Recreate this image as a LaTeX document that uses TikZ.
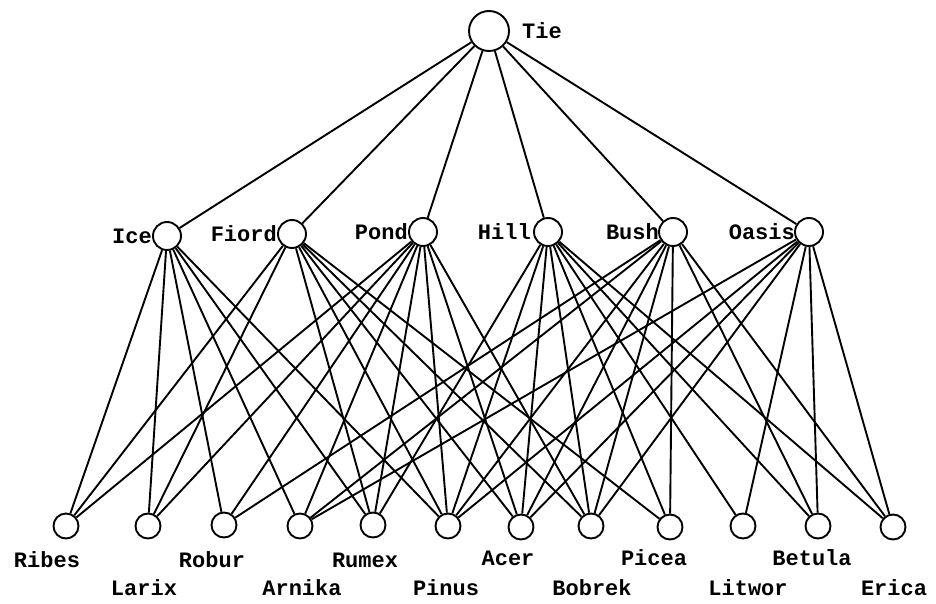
\documentclass[tikz,border=0pt]{standalone}
\usepackage{fontspec}
\setmonofont{Liberation Mono}
\begin{document}
\begin{tikzpicture}[x=1pt,y=-1pt,
  vtx/.style={circle,draw,line width=1.9pt,fill=white,inner sep=0pt},
  topv/.style={vtx,minimum size=40pt},
  midv/.style={vtx,minimum size=28pt},
  botv/.style={vtx,minimum size=25pt},
  lbl/.style={font=\ttfamily\bfseries\fontsize{22}{22}\selectfont,inner sep=0pt},
  edge/.style={line width=1.9pt}]
\useasboundingbox (0,0) rectangle (936,604);
% nodes
\node[topv] (tie) at (489,31) {};
\node[midv] (ice) at (167,236) {};
\node[midv] (fiord) at (292,234) {};
\node[midv] (pond) at (423,232) {};
\node[midv] (hill) at (548,232) {};
\node[midv] (bush) at (673,232) {};
\node[midv] (oasis) at (809,232) {};
\node[botv] (ribes) at (66,526) {};
\node[botv] (larix) at (148,526) {};
\node[botv] (robur) at (224,525) {};
\node[botv] (arnika) at (300,526) {};
\node[botv] (rumex) at (373,525) {};
\node[botv] (pinus) at (448,526) {};
\node[botv] (acer) at (521,527) {};
\node[botv] (bobrek) at (591,526) {};
\node[botv] (picea) at (670,527) {};
\node[botv] (litwor) at (743,526) {};
\node[botv] (betula) at (818,526) {};
\node[botv] (erica) at (893,527) {};
% labels
\node[lbl,anchor=west] (ltie) at (522,31) {Tie};
\node[lbl,anchor=east] (lice) at (152,236) {Ice};
\node[lbl,anchor=east] (lfiord) at (277,234) {Fiord};
\node[lbl,anchor=east] (lpond) at (408,232) {Pond};
\node[lbl,anchor=east] (lhill) at (531,232) {Hill};
\node[lbl,anchor=east] (lbush) at (659,232) {Bush};
\node[lbl,anchor=east] (loasis) at (795,232) {Oasis};
\node[lbl] (lribes) at (47,560) {Ribes};
\node[lbl] (llarix) at (144,588) {Larix};
\node[lbl] (lrobur) at (212,560) {Robur};
\node[lbl] (larnika) at (302,588) {Arnika};
\node[lbl] (lrumex) at (365,560) {Rumex};
\node[lbl] (lpinus) at (446,588) {Pinus};
\node[lbl] (lacer) at (508,558) {Acer};
\node[lbl] (lbobrek) at (592,588) {Bobrek};
\node[lbl] (lpicea) at (654,558) {Picea};
\node[lbl] (llitwor) at (748,588) {Litwor};
\node[lbl] (lbetula) at (812,558) {Betula};
\node[lbl] (lerica) at (894,588) {Erica};
% edges
\foreach \m in {ice,fiord,pond,hill,bush,oasis} \draw[edge] (tie) -- (\m);
\foreach \b in {ribes,larix,robur,arnika,rumex,pinus} \draw[edge] (ice) -- (\b);
\foreach \b in {ribes,larix,rumex,pinus,acer,bobrek,picea} \draw[edge] (fiord) -- (\b);
\foreach \b in {ribes,larix,robur,arnika,rumex,pinus,acer,bobrek} \draw[edge] (pond) -- (\b);
\foreach \b in {rumex,pinus,acer,bobrek,picea,litwor,betula,erica} \draw[edge] (hill) -- (\b);
\foreach \b in {robur,arnika,pinus,acer,bobrek,picea,betula,erica} \draw[edge] (bush) -- (\b);
\foreach \b in {arnika,pinus,acer,bobrek,litwor,betula,erica} \draw[edge] (oasis) -- (\b);
\end{tikzpicture}
\end{document}
